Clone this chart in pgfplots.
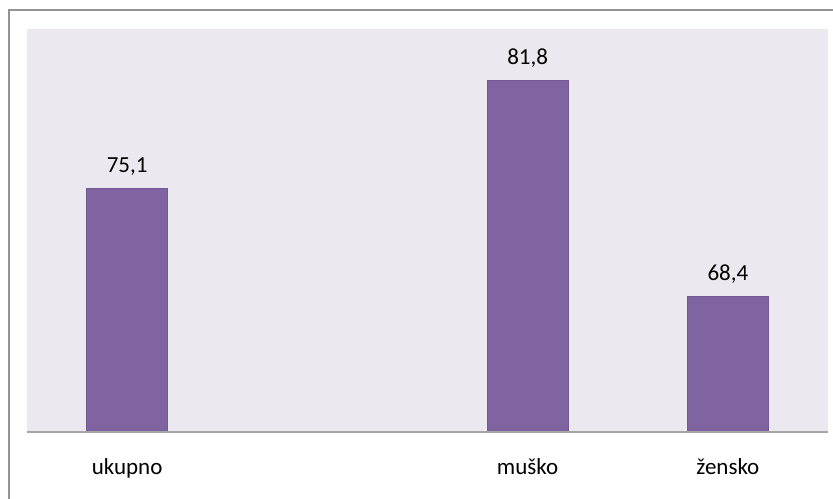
\documentclass[border=0pt]{standalone}
\usepackage{pgfplots}
\pgfplotsset{compat=1.18}
\usepackage{fontspec}
\setmainfont{Carlito}
\definecolor{barc}{HTML}{8064A2}
\definecolor{bgc}{HTML}{EBE9EF}
\definecolor{axc}{HTML}{A6A6A6}
\definecolor{brd}{HTML}{939393}
\begin{document}
\begin{tikzpicture}
\path[use as bounding box] (0,0) rectangle (416.5pt,249pt);
\draw[brd, line width=1pt] (4.5pt,-2pt) -- (4.5pt,244pt) -- (420pt,244pt);
\begin{axis}[
  at={(13.5pt,33pt)}, anchor=south west,
  scale only axis, width=400.5pt, height=201.5pt,
  xmin=-0.5, xmax=3.5, ymin=60, ymax=85,
  axis background/.style={fill=bgc},
  axis line style={draw=none},
  axis x line*=bottom,
  ytick=\empty, xtick={0,2,3},
  xticklabels={ukupno, muško, žensko},
  major tick length=0pt,
  xticklabel style={font=\fontsize{11.5}{13}\selectfont, anchor=base, yshift=-21pt},
  ybar, bar width=40.5pt,
  nodes near coords,
  every node near coord/.append style={font=\fontsize{11.5}{13}\selectfont, anchor=base, yshift=8pt},
  /pgf/number format/.cd, use comma, fixed, fixed zerofill, precision=1, assume math mode=true,
]
\addplot[fill=barc, draw=barc!90!black, line width=0.4pt] coordinates {(0,75.1) (2,81.8) (3,68.4)};
\draw[axc, line width=0.8pt] (rel axis cs:0,0) -- (rel axis cs:1,0);
\end{axis}
\end{tikzpicture}
\end{document}
